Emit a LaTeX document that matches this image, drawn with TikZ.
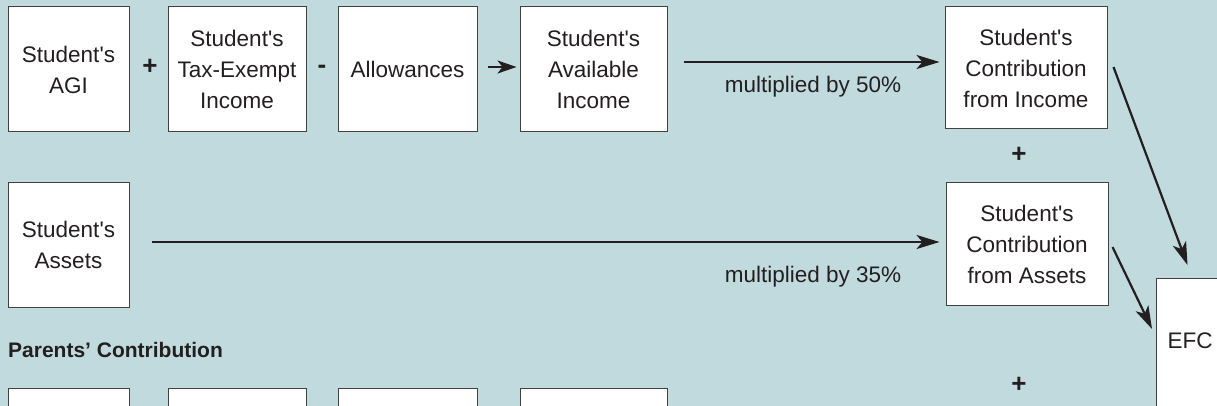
\documentclass[tikz,border=0pt]{standalone}
\usepackage{fontspec}
\setmainfont{Liberation Sans}
\usetikzlibrary{arrows.meta}
\definecolor{bg}{RGB}{192,218,222}
\definecolor{ink}{RGB}{35,31,32}
\newcommand{\aps}{\textquotesingle}
\begin{document}
\begin{tikzpicture}[x=1pt,y=-1pt,
  box/.style={draw=ink!85, line width=1pt, fill=white, align=center, inner sep=0pt,
    font=\fontsize{22.5}{31}\selectfont, text=ink},
  conn/.style={draw=ink, line width=2.2pt, -{Stealth[length=23pt,width=14pt,inset=6pt]}},
  lbl/.style={font=\fontsize{22.5}{26}\selectfont, text=ink, inner sep=0pt},
  op/.style={font=\fontsize{26}{28}\selectfont\bfseries, text=ink, inner sep=0pt}
]
\useasboundingbox (0,0) rectangle (1217,406);
\clip (0,0) rectangle (1217,406);
\fill[bg] (0,0) rectangle (1217,406);

% top row
\node[box, minimum width=121pt, minimum height=125pt] (agi) at (68.5,69.5) {Student\aps s\\AGI};
\node[box, minimum width=138pt, minimum height=125pt] (tax) at (237,69.5) {Student\aps s\\Tax-Exempt\\Income};
\node[box, minimum width=139pt, minimum height=125pt] (allow) at (407.5,69.5) {Allowances};
\node[box, minimum width=147pt, minimum height=125pt] (avail) at (593.5,69.5) {Student\aps s\\Available\\Income};
\node[box, minimum width=162pt, minimum height=122pt] (inc) at (1026,68) {Student\aps s\\Contribution\\from Income};

\node[op] (p1) at (150,67) {+};
\node[op] (m1) at (322,69) {-};

% second row
\node[box, minimum width=121pt, minimum height=124pt] (assets) at (68.5,245) {Student\aps s\\Assets};
\node[box, minimum width=162pt, minimum height=122pt] (cassets) at (1027,244) {Student\aps s\\Contribution\\from Assets};
\node[op] (p2) at (1019,155) {+};

% EFC
\node[box, minimum width=68pt, minimum height=140pt, anchor=north west] (efc) at (1156,278) {};
\node[lbl] (efct) at (1190,341) {EFC};

% parents
\node[font=\fontsize{21}{24}\selectfont\bfseries, text=ink, anchor=west, inner sep=0pt] (par) at (8,350) {Parents’ Contribution};
\node[op] (p3) at (1019,385) {+};

\node[box, minimum width=121pt, minimum height=40pt, anchor=north west] (b1) at (8,388) {};
\node[box, minimum width=138pt, minimum height=40pt, anchor=north west] (b2) at (168,388) {};
\node[box, minimum width=139pt, minimum height=40pt, anchor=north west] (b3) at (338,388) {};
\node[box, minimum width=147pt, minimum height=40pt, anchor=north west] (b4) at (520,388) {};

% connectors
\draw[conn, -{Stealth[length=19pt,width=13pt,inset=5pt]}] ([xshift=10pt,yshift=2.5pt]allow.east) -- ([xshift=-3pt,yshift=2.5pt]avail.west);
\draw[conn] ([xshift=16pt,yshift=7.5pt]avail.east) -- ([xshift=-5pt,yshift=6pt]inc.west);
\node[lbl] (l50) at (813,87) {multiplied by 50\%};
\draw[conn] ([xshift=22pt,yshift=3pt]assets.east) -- ([xshift=-6pt,yshift=2pt]cassets.west);
\node[lbl] (l35) at (813,277) {multiplied by 35\%};
\draw[conn] ([xshift=6pt,yshift=1pt]inc.east) -- ([xshift=-3pt,yshift=13pt]efc.north);
\draw[conn] ([xshift=4pt,yshift=-3pt]cassets.east) -- ([xshift=-4pt,yshift=-51pt]efc.north west);
\end{tikzpicture}
\end{document}
